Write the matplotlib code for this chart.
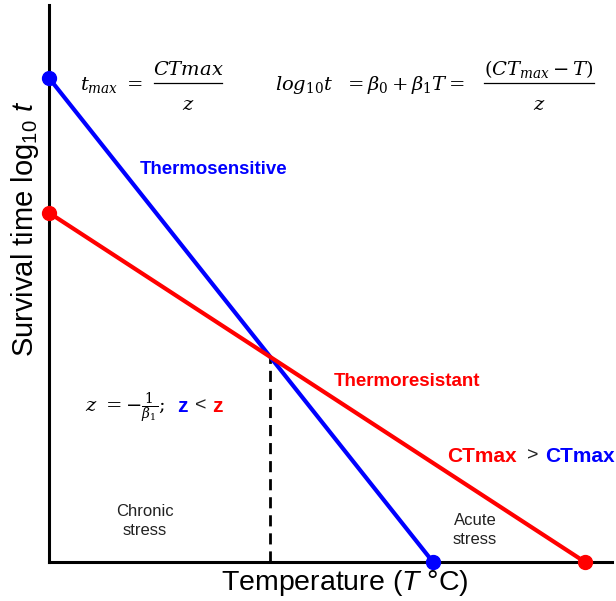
import numpy as np
import matplotlib.pyplot as plt
from matplotlib.lines import Line2D

plt.rcParams['font.family'] = ['Liberation Sans', 'DejaVu Sans']
plt.rcParams['mathtext.fontset'] = 'dejavuserif'
plt.rcParams['mathtext.rm'] = 'Liberation Sans'
plt.rcParams['mathtext.it'] = 'Liberation Sans:italic'
plt.rcParams['mathtext.bf'] = 'Liberation Sans:bold'

# Survival time (log10 t) vs temperature
sens_x = [0.0, 6.82]   # thermosensitive: log10 t at T=0, CTmax
sens_y = [8.69, 0.0]
res_x = [0.0, 9.52]    # thermoresistant
res_y = [6.27, 0.0]

W, H = 616, 601


def px(x, y):
    # pixel position -> figure fraction
    return x / W, 1 - y / H


def frac(x0, x1, num, den, size=14):
    # hand made display fraction, bar at y=83 px
    xm = (x0 + x1) / 2
    fig.text(*px(xm, 75), num, ha='center', va='baseline', fontsize=size)
    fig.text(*px(xm, 110), den, ha='center', va='baseline', fontsize=size)
    a = px(x0, 83)
    b = px(x1, 83)
    fig.add_artist(Line2D([a[0], b[0]], [a[1], b[1]], color='black', lw=0.9,
                          transform=fig.transFigure))


fig = plt.figure(figsize=(W / 100, H / 100), dpi=100)
ax = fig.add_axes([49 / W, 39 / H, (612 - 49) / W, (562 - 5) / H])
ax.set_xlim(0, 10)
ax.set_ylim(0, 10)
for s in ['top', 'right']:
    ax.spines[s].set_visible(False)
for s in ['left', 'bottom']:
    ax.spines[s].set_linewidth(2.2)
ax.set_xticks([])
ax.set_yticks([])

ax.plot(sens_x, sens_y, color='#0000ff', lw=3, marker='o', ms=10, clip_on=False, zorder=3)
ax.plot(res_x, res_y, color='#ff0000', lw=3, marker='o', ms=10, clip_on=False, zorder=3)

# crossing point of the two lines
b1 = (sens_y[1] - sens_y[0]) / (sens_x[1] - sens_x[0])
b2 = (res_y[1] - res_y[0]) / (res_x[1] - res_x[0])
xc = (res_y[0] - sens_y[0]) / (b1 - b2)
yc = sens_y[0] + b1 * xc
ax.plot([xc, xc], [0, yc], color='black', lw=2, ls=(0, (4, 2.5)), zorder=2)

fig.text(*px(25, 229), r'Survival time log$_{\mathrm{10}}$ $t$', rotation=90,
         ha='center', va='center', fontsize=21, math_fontfamily='custom')
fig.text(*px(345, 583), r'Temperature ($T$ °C)', ha='center', va='center',
         fontsize=20.5, math_fontfamily='custom')

# equations
fig.text(*px(80, 90), r'$t_{max}\ =$', ha='left', va='baseline', fontsize=14)
frac(154, 222, r'$CTmax$', r'$z$')
fig.text(*px(275, 90), r'$log_{10}t\ \ =\beta_0+\beta_1T=$', ha='left', va='baseline',
         fontsize=14)
frac(484, 594, r'$(CT_{max}-T)$', r'$z$')

fig.text(*px(140, 169), 'Thermosensitive', color='#0000ff', fontweight='bold',
         ha='left', va='center', fontsize=13.4)
fig.text(*px(334, 382), 'Thermoresistant', color='#ff0000', fontweight='bold',
         ha='left', va='center', fontsize=13.5)

fig.text(*px(447, 456), 'CTmax', color='#ff0000', fontweight='bold',
         ha='left', va='center', fontsize=15)
fig.text(*px(527, 456), '>', color='#222222', ha='left', va='center', fontsize=14)
fig.text(*px(545, 456), 'CTmax', color='#0000ff', fontweight='bold',
         ha='left', va='center', fontsize=15)

fig.text(*px(85, 408), r'$z\ =-\frac{1}{\beta_1};$', ha='left', va='center', fontsize=14)
fig.text(*px(177, 407), 'z', color='#0000ff', fontweight='bold',
         ha='left', va='center', fontsize=15)
fig.text(*px(195, 406), '<', color='#222222', ha='left', va='center', fontsize=14)
fig.text(*px(212, 407), 'z', color='#ff0000', fontweight='bold',
         ha='left', va='center', fontsize=15)

fig.text(*px(145, 521), 'Chronic\nstress', ha='center', va='center', fontsize=12,
         color='#222222', linespacing=1.3)
fig.text(*px(475, 530), 'Acute\nstress', ha='center', va='center', fontsize=12,
         color='#222222', linespacing=1.3)

fig.savefig('out.png', dpi=100)
